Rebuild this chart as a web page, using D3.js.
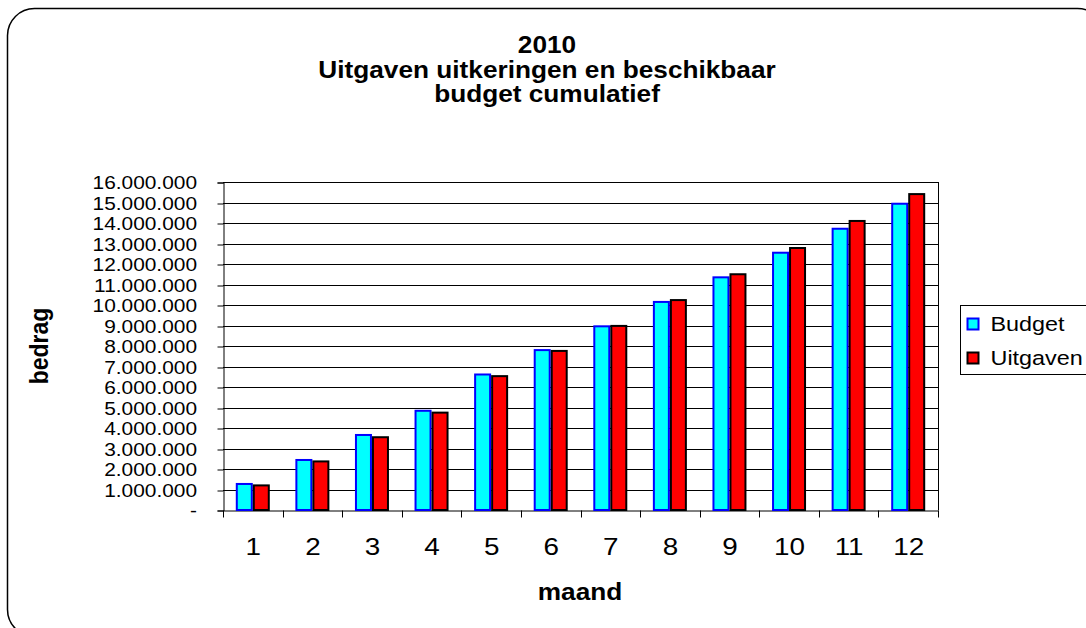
<!DOCTYPE html>
<html>
<head>
<meta charset="utf-8">
<script src="https://cdn.jsdelivr.net/npm/d3@7"></script>
<style>
  body { margin: 0; background: #fff; }
  svg { display: block; font-family: "Liberation Sans", Arial, sans-serif; }
</style>
</head>
<body>
<script>
const months = ["1", "2", "3", "4", "5", "6", "7", "8", "9", "10", "11", "12"];
const budget = [1270000, 2440000, 3660000, 4840000, 6610000, 7800000, 8960000, 10150000, 11350000, 12550000, 13720000, 14940000];
const uitgaven = [1200000, 2370000, 3550000, 4750000, 6530000, 7760000, 8980000, 10240000, 11500000, 12780000, 14100000, 15410000];
const seriesNames = ["Budget", "Uitgaven"];
const yTicks = d3.range(0, 16000001, 1000000);
const titleLines = ["2010", "Uitgaven uitkeringen en beschikbaar", "budget cumulatief"];

const W = 1086, H = 628;
const MARGIN = { TOP: 182, BOTTOM: 118, LEFT: 223, RIGHT: 148 };
const SX = 1.16; // tekst is in het origineel breder uitgerekt

const svg = d3.select("body").append("svg")
    .attr("width", W)
    .attr("height", H);

// rounded frame (runs off right and bottom)
svg.append("rect")
    .attr("x", 7.5).attr("y", 8.5)
    .attr("width", 1097).attr("height", 628)
    .attr("rx", 27).attr("ry", 27)
    .attr("fill", "#fff")
    .attr("stroke", "#000")
    .attr("stroke-width", 1.5);

const x0 = d3.scaleBand()
    .domain(months)
    .range([MARGIN.LEFT, W - MARGIN.RIGHT]);

const x1 = d3.scaleBand()
    .domain(seriesNames)
    .range([0, 34]);

const y = d3.scaleLinear()
    .domain([0, 16000000])
    .range([H - MARGIN.BOTTOM, MARGIN.TOP]);

const fmt = v => v === 0 ? "-" : d3.format(",")(v).replace(/,/g, ".");

function label(x, yy, txt, size, bold, sx) {
    return svg.append("text")
        .attr("transform", `translate(${x},${yy}) scale(${sx || SX},1)`)
        .attr("text-anchor", "middle")
        .attr("font-size", size)
        .attr("font-weight", bold ? "bold" : "normal")
        .text(txt);
}

// gridlines
svg.append("g")
    .selectAll("line")
    .data(yTicks.slice(1))
    .enter()
    .append("line")
    .attr("x1", MARGIN.LEFT).attr("x2", W - MARGIN.RIGHT)
    .attr("y1", d => Math.round(y(d)) + 0.5)
    .attr("y2", d => Math.round(y(d)) + 0.5)
    .attr("stroke", "#000")
    .attr("stroke-width", 1);

// plot border right
svg.append("line")
    .attr("x1", W - MARGIN.RIGHT + 0.5).attr("x2", W - MARGIN.RIGHT + 0.5)
    .attr("y1", MARGIN.TOP).attr("y2", H - MARGIN.BOTTOM)
    .attr("stroke", "#000");

// y axis
const yAxis = svg.append("g")
    .attr("transform", `translate(${MARGIN.LEFT + 0.5},0.5)`)
    .call(d3.axisLeft(y).tickValues(yTicks).tickFormat(fmt).tickSize(6));
yAxis.select(".domain").attr("stroke", "#000");
yAxis.selectAll(".tick line").attr("stroke", "#000").attr("transform", d => `translate(0,${Math.round(y(d)) - y(d)})`);
yAxis.selectAll("text")
    .attr("font-family", "Liberation Sans, Arial, sans-serif")
    .attr("font-size", 18)
    .attr("fill", "#000")
    .attr("x", -26.5 / SX)
    .attr("dy", "0.36em")
    .attr("transform", `scale(${SX},1)`);

// x axis
const xAxis = svg.append("g")
    .attr("transform", `translate(0.5,${H - MARGIN.BOTTOM + 0.5})`)
    .call(d3.axisBottom(x0).tickSize(0));
xAxis.select(".domain").attr("stroke", "#000");
xAxis.selectAll("text")
    .attr("font-family", "Liberation Sans, Arial, sans-serif")
    .attr("font-size", 24)
    .attr("fill", "#000")
    .attr("y", 45)
    .attr("dy", 0)
    .attr("transform", `scale(${SX},1)`);
xAxis.selectAll(".sep")
    .data(d3.range(months.length + 1))
    .enter()
    .append("line")
    .attr("x1", i => Math.round(MARGIN.LEFT + i * x0.step()))
    .attr("x2", i => Math.round(MARGIN.LEFT + i * x0.step()))
    .attr("y1", 0).attr("y2", 7)
    .attr("stroke", "#000");

// bars
const colors = { Budget: ["#00ffff", "#0000ff"], Uitgaven: ["#ff0000", "#000000"] };
const groups = svg.append("g")
    .selectAll("g")
    .data(months.map((m, i) => ({ m, vals: [budget[i], uitgaven[i]] })))
    .enter()
    .append("g")
    .attr("transform", d => `translate(${x0(d.m) + x0.bandwidth() / 2 - 17},0)`);

groups.selectAll("rect")
    .data(d => d.vals.map((v, j) => ({ s: seriesNames[j], v })))
    .enter()
    .append("rect")
    .attr("x", d => x1(d.s) + 1)
    .attr("width", x1.bandwidth() - 2)
    .attr("y", d => y(d.v))
    .attr("height", d => y(0) - y(d.v))
    .attr("fill", d => colors[d.s][0])
    .attr("stroke", d => colors[d.s][1])
    .attr("stroke-width", 2);

// titles
titleLines.forEach((t, i) => label(547, 53 + i * 24.5, t, 23, true, 1.14));

label(580, 600, "maand", 23, true, 1.14);

svg.append("text")
    .attr("transform", `translate(48,346) scale(${SX},1) rotate(-90)`)
    .attr("text-anchor", "middle")
    .attr("font-size", 23)
    .attr("font-weight", "bold")
    .text("bedrag");

// legend
const legend = svg.append("g").attr("transform", "translate(960.5,305.5)");
legend.append("rect")
    .attr("width", 140).attr("height", 69)
    .attr("fill", "#fff").attr("stroke", "#000");
const li = legend.selectAll(".li")
    .data(seriesNames)
    .enter()
    .append("g")
    .attr("transform", (d, i) => `translate(7,${13 + i * 34})`);
li.append("rect")
    .attr("width", 11).attr("height", 11)
    .attr("fill", d => colors[d][0])
    .attr("stroke", d => colors[d][1])
    .attr("stroke-width", 2);
li.append("text")
    .attr("transform", "translate(23,12) scale(1.2,1)")
    .attr("font-size", 19.5)
    .text(d => d);
</script>
</body>
</html>
